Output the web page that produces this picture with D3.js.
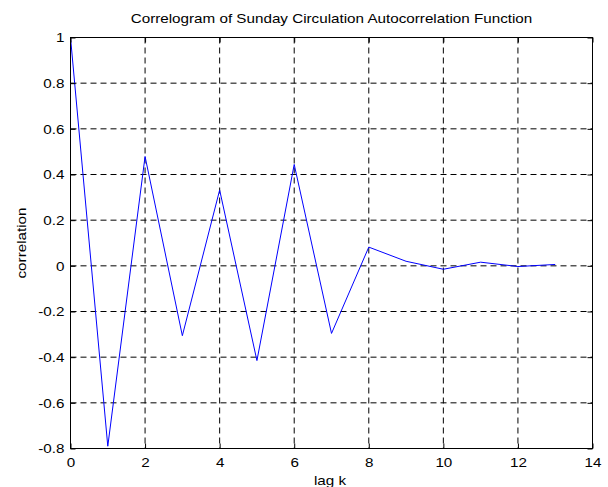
<!DOCTYPE html>
<html>
<head>
<meta charset="utf-8">
<script src="https://cdn.jsdelivr.net/npm/d3@7"></script>
<style>
  html, body { margin: 0; padding: 0; background: #fff; }
  svg { display: block; }
  text { font-family: "Liberation Sans", Arial, sans-serif; fill: #000; }
</style>
</head>
<body>
<svg id="chart" width="608" height="487"></svg>
<script>
// Sample autocorrelation of Sunday circulation, lags 0..13
const lags = [0, 1, 2, 3, 4, 5, 6, 7, 8, 9, 10, 11, 12, 13];
const acf = [1.0, -0.79, 0.479, -0.306, 0.332, -0.415, 0.444, -0.296, 0.082, 0.02, -0.015, 0.016, -0.003, 0.006];

const xTicks = [0, 2, 4, 6, 8, 10, 12, 14];
const yTicks = [-0.8, -0.6, -0.4, -0.2, 0, 0.2, 0.4, 0.6, 0.8, 1];

const titleText = "Correlogram of Sunday Circulation Autocorrelation Function";
const xLabelText = "lag k";
const yLabelText = "correlation";

const W = 608, H = 487;
const margin = { left: 70.5, right: 15.5, top: 37.5, bottom: 38.5 };
const innerW = W - margin.left - margin.right;
const innerH = H - margin.top - margin.bottom;
const fontSize = 13;
const textStretch = 1.17;   // wide, loosely spaced lettering

const svg = d3.select("#chart");
const g = svg.append("g").attr("transform", `translate(${margin.left},${margin.top})`);

const x = d3.scaleLinear().domain([0, 14]).range([0, innerW]);
const y = d3.scaleLinear().domain([-0.8, 1]).range([innerH, 0]);

// dashed grid
g.append("g").selectAll("line")
  .data(xTicks.slice(1, -1)).enter().append("line")
  .attr("x1", d => x(d)).attr("x2", d => x(d))
  .attr("y1", 0).attr("y2", innerH)
  .attr("stroke", "#000").attr("stroke-width", 1)
  .attr("stroke-dasharray", "6,4");
g.append("g").selectAll("line")
  .data(yTicks.slice(1, -1)).enter().append("line")
  .attr("x1", 0).attr("x2", innerW)
  .attr("y1", d => y(d)).attr("y2", d => y(d))
  .attr("stroke", "#000").attr("stroke-width", 1)
  .attr("stroke-dasharray", "6,4");

// autocorrelation line
const line = d3.line().x((d, i) => x(lags[i])).y(d => y(d));
g.append("path")
  .datum(acf)
  .attr("fill", "none")
  .attr("stroke", "#0000ff")
  .attr("stroke-width", 1)
  .attr("d", line);

// axes with inward ticks on all four sides
const tickLen = 5;
const fmtY = d => String(+d.toFixed(1));   // plain hyphen minus
const xAxis = g.append("g").attr("transform", `translate(0,${innerH})`)
  .call(d3.axisBottom(x).tickValues(xTicks).tickFormat(d => String(d))
    .tickSizeInner(-tickLen).tickSizeOuter(0).tickPadding(9));
const yAxis = g.append("g")
  .call(d3.axisLeft(y).tickValues(yTicks).tickFormat(fmtY)
    .tickSizeInner(-tickLen).tickSizeOuter(0).tickPadding(10));
const xTop = g.append("g")
  .call(d3.axisTop(x).tickValues(xTicks).tickFormat("").tickSizeInner(-tickLen).tickSizeOuter(0));
const yRight = g.append("g").attr("transform", `translate(${innerW},0)`)
  .call(d3.axisRight(y).tickValues(yTicks).tickFormat("").tickSizeInner(-tickLen).tickSizeOuter(0));

[xAxis, yAxis, xTop, yRight].forEach(a => {
  a.select(".domain").remove();
  a.selectAll("line").attr("stroke", "#000");
  a.selectAll("text").attr("font-size", fontSize)
    .style("font-family", "'Liberation Sans', Arial, sans-serif");
});
yAxis.selectAll("text").attr("dx", "4");

// frame
g.append("rect")
  .attr("x", 0).attr("y", 0).attr("width", innerW).attr("height", innerH)
  .attr("fill", "none").attr("stroke", "#000").attr("stroke-width", 1);

// title and axis labels
svg.append("text")
  .attr("x", margin.left + innerW / 2).attr("y", 23)
  .attr("text-anchor", "middle").attr("font-size", fontSize)
  .text(titleText);
svg.append("text")
  .attr("x", 330).attr("y", 484.5)
  .attr("text-anchor", "middle").attr("font-size", fontSize)
  .text(xLabelText);
svg.append("text")
  .attr("transform", `translate(26,${margin.top + innerH / 2}) rotate(-90)`)
  .attr("text-anchor", "middle").attr("font-size", fontSize)
  .text(yLabelText);

// widen every label along its reading direction
svg.selectAll("text").each(function () {
  const len = this.getComputedTextLength();
  if (len > 0) {
    d3.select(this)
      .attr("textLength", len * textStretch)
      .attr("lengthAdjust", "spacingAndGlyphs");
  }
});
</script>
</body>
</html>
